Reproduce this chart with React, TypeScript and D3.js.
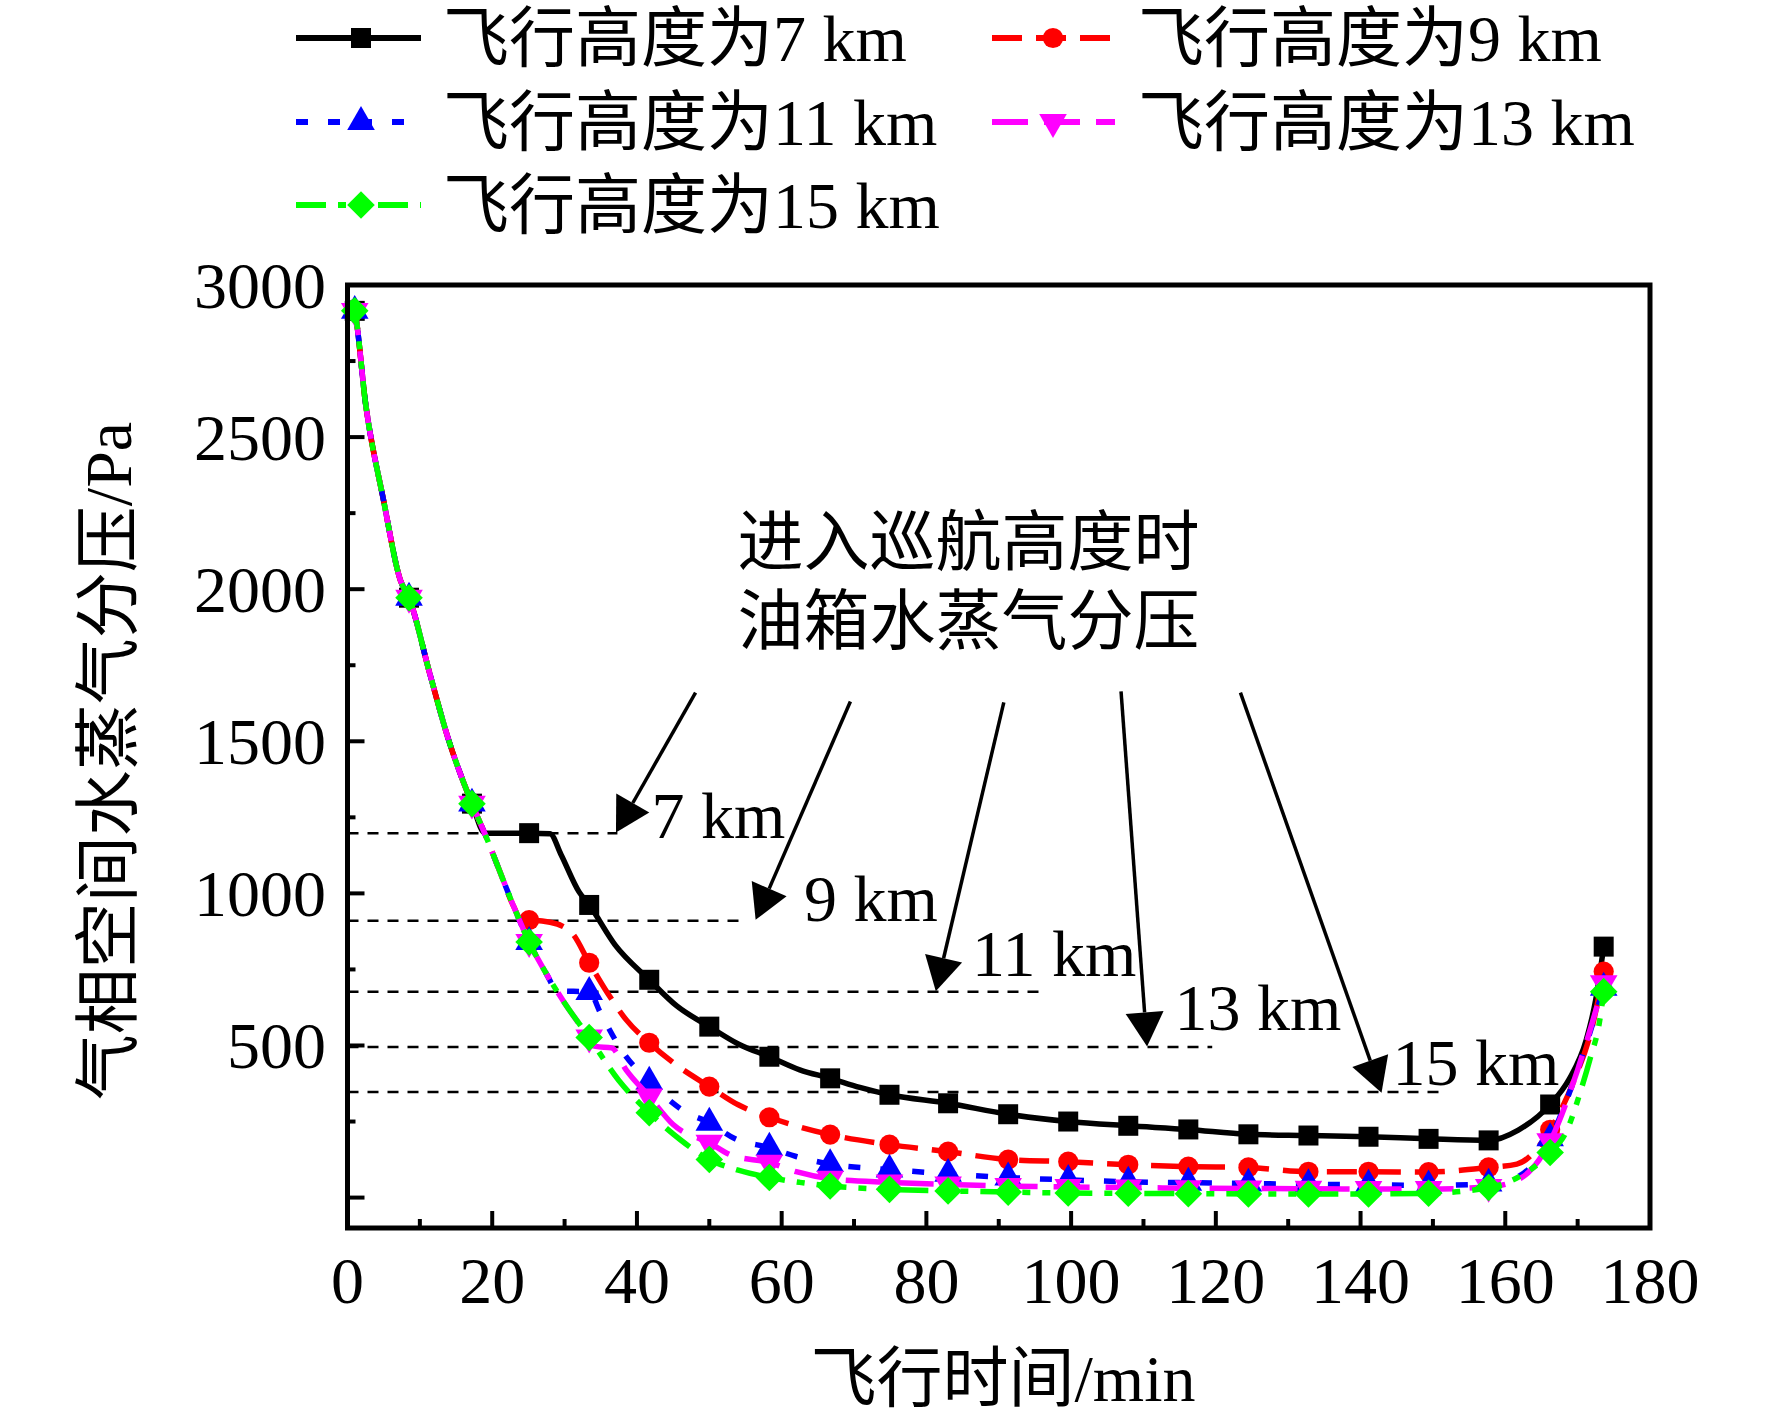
import { useEffect, useRef } from "react";
import * as d3 from "d3";

type Pt = [number, number];

// times (min) where the symbols sit
const markTimes = [1.0, 8.5, 17.2, 25.1, 33.4, 41.7, 50.0, 58.3, 66.7, 74.9, 83.0, 91.3, 99.6, 107.9, 116.2, 124.5, 132.8, 141.1, 149.4, 157.7, 166.2, 173.6];

// climb phase shared by every altitude
const climb: Pt[] = [
  [0.5, 2950], [1.0, 2915], [2.5, 2610], [5, 2290], [7.3, 2030], [8.5, 1972],
  [11.4, 1720], [13.9, 1510], [17.2, 1295], [19, 1195], [21, 1075], [23, 955],
  [25.1, 840], [27.5, 735], [30, 640], [33.4, 526], [37.5, 385], [41.7, 279],
];

const tail7: Pt[] = [
  [19, 1198], [25.1, 1198], [28, 1196], [29.5, 1128], [32, 1005], [33.4, 962], [37, 830],
  [41.7, 716], [45.5, 630], [50.0, 562], [54, 505], [58.3, 463], [62.5, 420],
  [66.7, 392], [70.8, 362], [74.9, 338], [83.0, 310], [91.3, 274], [99.6, 250],
  [107.9, 236], [116.2, 224], [124.5, 208], [132.8, 204], [141.1, 200], [149.4, 193],
  [157.7, 188], [161.8, 222], [166.2, 306], [168.8, 388], [171.2, 519], [172.5, 650],
  [173.6, 825],
];
const tail9: Pt[] = [
  [24.1, 910], [25.1, 912], [28, 905], [31, 870], [33.4, 772], [36, 670], [38.5, 585],
  [41.7, 509], [45.5, 435], [50.0, 365], [54, 305], [58.3, 264], [62.5, 232],
  [66.7, 207], [74.9, 174], [83.0, 151], [91.3, 125], [99.6, 118], [107.9, 108],
  [116.2, 102], [124.5, 99], [132.8, 85], [141.1, 85], [149.4, 84], [157.7, 99],
  [161.6, 110], [166.2, 223], [169.5, 385], [172, 560], [173.6, 743],
];
const tail11: Pt[] = [
  [29, 680], [33.4, 676], [35, 605], [38, 480], [41.7, 381], [46.6, 283], [50.0, 246],
  [53.5, 194], [58.3, 164], [62, 135], [66.7, 110], [74.9, 92], [83.0, 78], [91.3, 66],
  [99.6, 58], [107.9, 52], [116.2, 49], [124.5, 46], [132.8, 44], [141.1, 42],
  [149.4, 40], [157.7, 46], [162, 72], [166.2, 195], [170, 420], [173.6, 690],
];
const tail13: Pt[] = [
  [34.3, 497], [36.5, 492], [38.5, 420], [41.7, 332], [45, 240], [50.0, 180], [53, 140],
  [58.3, 115], [62, 85], [66.7, 62], [74.9, 50], [83.0, 43], [91.3, 38], [99.6, 35],
  [107.9, 33], [116.2, 31], [124.5, 30], [132.8, 29], [141.1, 28], [149.4, 28],
  [157.7, 35], [162, 62], [166.2, 185], [170, 420], [173.6, 705],
];
const tail15: Pt[] = [
  [46, 190], [50.0, 125], [54, 90], [58.3, 66], [62.5, 50], [66.7, 38], [74.9, 27],
  [83.0, 22], [91.3, 18], [99.6, 15], [107.9, 14], [116.2, 13], [124.5, 12], [132.8, 12],
  [141.1, 12], [149.4, 14], [157.7, 33], [162, 70], [166.2, 148], [168.4, 215],
  [170.6, 365], [171.8, 463], [173, 575], [173.6, 677],
];

const seriesNames = ["飞行高度为7 km", "飞行高度为9 km", "飞行高度为11 km", "飞行高度为13 km", "飞行高度为15 km"];
const climbEnd = [17.2, 23, 27.5, 33.4, 41.7];
const tails = [tail7, tail9, tail11, tail13, tail15];
const colors = ["#000000", "#ff0000", "#0000ff", "#ff00ff", "#00ff00"];
const dashes = ["none", "30,14", "12,20", "36,16", "30,12,8,12,8,12"];

// cruise altitude annotation
const cruiseLevels = [1198, 910, 677, 495, 347];
const cruiseLineEnd = [37.3, 54.6, 95.5, 119.5, 151.5];
const arrowFrom: Pt[] = [[48.1, 1660], [69.5, 1631], [90.7, 1628], [106.9, 1664], [123.4, 1660]];
const arrowTo: Pt[] = [[37.1, 1200], [56.4, 913], [81.3, 678], [110.5, 497], [142.9, 345]];
const altLabels = ["7 km", "9 km", "11 km", "13 km", "15 km"];
const altLabelPos: Pt[] = [[42, 1183], [63.1, 908], [86.3, 727], [114.3, 552], [144.4, 371]];
const noteLines = ["进入巡航高度时", "油箱水蒸气分压"];
const notePos: Pt[] = [[53.9, 2152], [53.9, 1893]];

const xTicks = [0, 20, 40, 60, 80, 100, 120, 140, 160, 180];
const yTicks = [500, 1000, 1500, 2000, 2500, 3000];

const FONT = "'Liberation Serif', 'Times New Roman', 'Noto Sans CJK SC', serif";

function symbolPath(i: number) {
  if (i === 0) return d3.symbol(d3.symbolSquare, 400)()!;
  if (i === 1) return d3.symbol(d3.symbolCircle, 320)()!;
  if (i === 4) return d3.symbol(d3.symbolSquare, 380)()!;
  return d3.symbol(d3.symbolTriangle, 330)()!;
}
function symbolRotate(i: number) {
  if (i === 3) return " rotate(180)";
  if (i === 4) return " rotate(45)";
  return "";
}

function App() {
  const ref = useRef<SVGSVGElement>(null);

  useEffect(() => {
    if (!ref.current) return;
    const svg = d3.select(ref.current);
    svg.selectAll("*").remove();

    const x = d3.scaleLinear().domain([0, 180]).range([347.5, 1650]);
    const y = d3.scaleLinear().domain([-100, 3000]).range([1228, 285]);

    const g = svg.append("g").style("font-family", FONT).style("font-size", "66px");

    // dashed cruise reference lines
    cruiseLevels.forEach((v, i) => {
      g.append("line")
        .attr("x1", x(0)).attr("x2", x(cruiseLineEnd[i]))
        .attr("y1", y(v)).attr("y2", y(v))
        .attr("stroke", "#000").attr("stroke-width", 2.5)
        .attr("stroke-dasharray", "11,9");
    });

    // series
    const line = d3.line<Pt>().x((d) => x(d[0])).y((d) => y(d[1])).curve(d3.curveMonotoneX);
    tails.forEach((tail, i) => {
      const pts = climb.filter((p) => p[0] <= climbEnd[i]).concat(tail);
      g.append("path")
        .attr("d", line(pts)!)
        .attr("fill", "none")
        .attr("stroke", colors[i])
        .attr("stroke-width", 5.5)
        .attr("stroke-dasharray", dashes[i]);
      g.append("g")
        .selectAll("path")
        .data(pts.filter((p) => markTimes.includes(p[0])))
        .enter()
        .append("path")
        .attr("d", symbolPath(i))
        .attr("transform", (d) => `translate(${x(d[0])},${y(d[1])})${symbolRotate(i)}`)
        .attr("fill", colors[i]);
    });

    // arrows
    arrowFrom.forEach((f, i) => {
      const x0 = x(f[0]), y0 = y(f[1]);
      const x1 = x(arrowTo[i][0]), y1 = y(arrowTo[i][1]);
      const len = Math.hypot(x1 - x0, y1 - y0);
      const ux = (x1 - x0) / len, uy = (y1 - y0) / len;
      const bx = x1 - ux * 34, by = y1 - uy * 34;
      g.append("line")
        .attr("x1", x0).attr("y1", y0).attr("x2", bx).attr("y2", by)
        .attr("stroke", "#000").attr("stroke-width", 3.5);
      g.append("path")
        .attr("d", `M${x1},${y1}L${bx - uy * 19},${by + ux * 19}L${bx + uy * 19},${by - ux * 19}Z`)
        .attr("fill", "#000");
    });

    altLabels.forEach((t, i) => {
      g.append("text")
        .attr("x", x(altLabelPos[i][0])).attr("y", y(altLabelPos[i][1]))
        .text(t);
    });
    noteLines.forEach((t, i) => {
      g.append("text")
        .attr("x", x(notePos[i][0])).attr("y", y(notePos[i][1]))
        .attr("dominant-baseline", "central")
        .text(t);
    });

    // axes frame
    g.append("rect")
      .attr("x", x(0)).attr("y", y(3000))
      .attr("width", x(180) - x(0)).attr("height", y(-100) - y(3000))
      .attr("fill", "none").attr("stroke", "#000").attr("stroke-width", 5);

    // x ticks (inward)
    d3.range(10, 180, 10).forEach((t) => {
      const major = t % 20 === 0;
      g.append("line")
        .attr("x1", x(t)).attr("x2", x(t))
        .attr("y1", y(-100)).attr("y2", y(-100) - (major ? 17 : 9))
        .attr("stroke", "#000").attr("stroke-width", 4);
    });
    xTicks.forEach((t) => {
      g.append("text")
        .attr("x", x(t)).attr("y", 1303)
        .attr("text-anchor", "middle")
        .text(t);
    });

    // y ticks (inward)
    d3.range(0, 3000, 250).forEach((v) => {
      const major = v % 500 === 0;
      g.append("line")
        .attr("x1", x(0)).attr("x2", x(0) + (major ? 17 : 8))
        .attr("y1", y(v)).attr("y2", y(v))
        .attr("stroke", "#000").attr("stroke-width", 4);
    });
    yTicks.forEach((v) => {
      g.append("text")
        .attr("x", 326).attr("y", y(v))
        .attr("text-anchor", "end")
        .attr("dominant-baseline", "central")
        .text(v);
    });

    // axis titles
    g.append("text")
      .attr("x", 1003).attr("y", 1378)
      .attr("text-anchor", "middle")
      .attr("dominant-baseline", "central")
      .text("飞行时间/min");
    g.append("text")
      .attr("transform", "translate(108,761) rotate(-90)")
      .attr("text-anchor", "middle")
      .attr("dominant-baseline", "central")
      .text("气相空间水蒸气分压/Pa");

    // legend
    const colX = [[296, 421, 361, 443], [992, 1115, 1053, 1138]];
    const rowY = [38, 122, 205];
    seriesNames.forEach((name, i) => {
      const c = colX[i % 2];
      const cy = rowY[Math.floor(i / 2)];
      g.append("line")
        .attr("x1", c[0]).attr("x2", c[1]).attr("y1", cy).attr("y2", cy)
        .attr("stroke", colors[i]).attr("stroke-width", 6)
        .attr("stroke-dasharray", dashes[i]);
      g.append("path")
        .attr("d", symbolPath(i))
        .attr("transform", `translate(${c[2]},${cy})${symbolRotate(i)}`)
        .attr("fill", colors[i]);
      g.append("text")
        .attr("x", c[3]).attr("y", cy)
        .attr("dominant-baseline", "central")
        .text(name);
    });
  }, []);

  return (
    <svg
      ref={ref}
      width={1772}
      height={1422}
      style={{ position: "absolute", left: 0, top: 0, background: "#fff" }}
    />
  );
}

export default App;
